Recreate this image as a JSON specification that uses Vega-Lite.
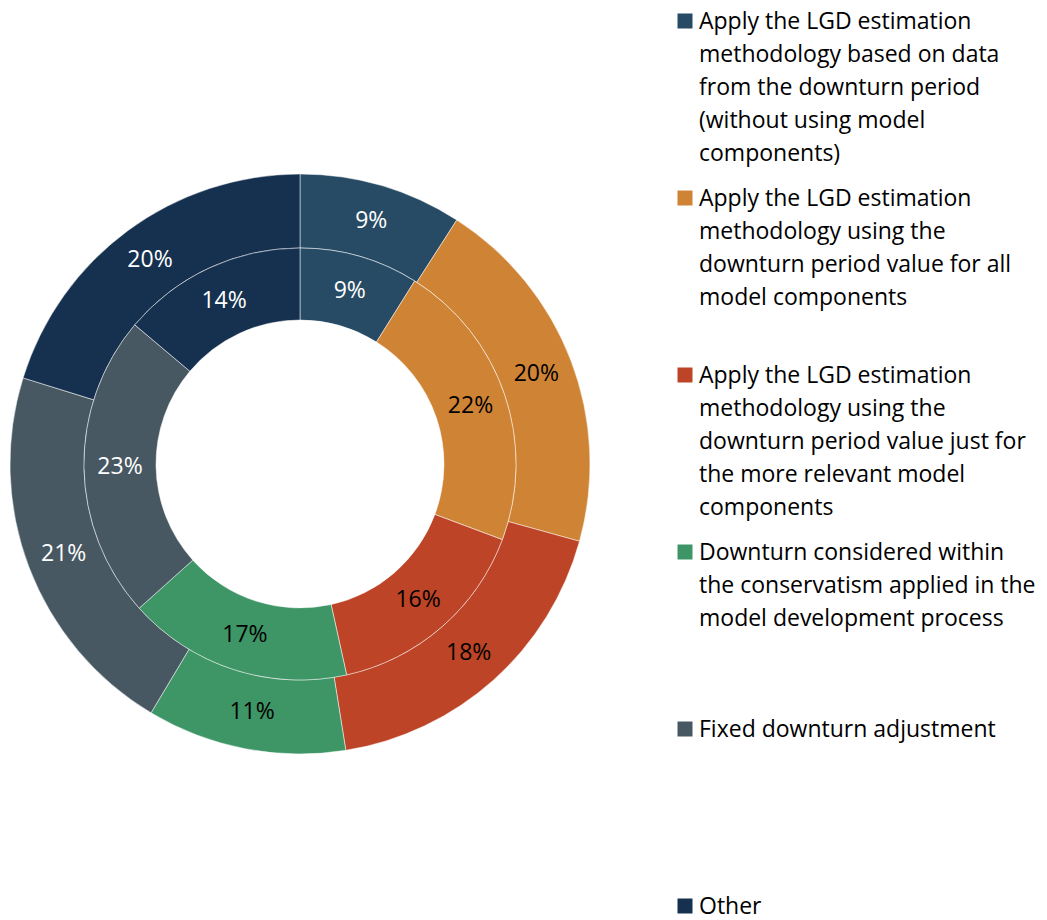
{
  "$schema": "https://vega.github.io/schema/vega-lite/v6.json",
  "padding": {"top": 8, "left": 0, "right": 0, "bottom": 0},
  "background": "white",
  "config": {"view": {"stroke": null}, "font": "Open Sans", "concat": {"spacing": 77}},
  "datasets": {
    "rings": [
      {"ring": "outer", "order": 1, "category": "Apply the LGD estimation methodology based on data from the downturn period (without using model components)", "value": 0.09},
      {"ring": "outer", "order": 2, "category": "Apply the LGD estimation methodology using the downturn period value for all model components", "value": 0.20},
      {"ring": "outer", "order": 3, "category": "Apply the LGD estimation methodology using the downturn period value just for the more relevant model components", "value": 0.18},
      {"ring": "outer", "order": 4, "category": "Downturn considered within the conservatism applied in the model development process", "value": 0.11},
      {"ring": "outer", "order": 5, "category": "Fixed downturn adjustment", "value": 0.21},
      {"ring": "outer", "order": 6, "category": "Other", "value": 0.20},
      {"ring": "inner", "order": 1, "category": "Apply the LGD estimation methodology based on data from the downturn period (without using model components)", "value": 0.09},
      {"ring": "inner", "order": 2, "category": "Apply the LGD estimation methodology using the downturn period value for all model components", "value": 0.22},
      {"ring": "inner", "order": 3, "category": "Apply the LGD estimation methodology using the downturn period value just for the more relevant model components", "value": 0.16},
      {"ring": "inner", "order": 4, "category": "Downturn considered within the conservatism applied in the model development process", "value": 0.17},
      {"ring": "inner", "order": 5, "category": "Fixed downturn adjustment", "value": 0.23},
      {"ring": "inner", "order": 6, "category": "Other", "value": 0.14}
    ],
    "legend": [
      {"order": 1, "category": "Apply the LGD estimation methodology based on data from the downturn period (without using model components)", "lines": ["Apply the LGD estimation", "methodology based on data", "from the downturn period", "(without using model", "components)"]},
      {"order": 2, "category": "Apply the LGD estimation methodology using the downturn period value for all model components", "lines": ["Apply the LGD estimation", "methodology using the", "downturn period value for all", "model components"]},
      {"order": 3, "category": "Apply the LGD estimation methodology using the downturn period value just for the more relevant model components", "lines": ["Apply the LGD estimation", "methodology using the", "downturn period value just for", "the more relevant model", "components"]},
      {"order": 4, "category": "Downturn considered within the conservatism applied in the model development process", "lines": ["Downturn considered within", "the conservatism applied in the", "model development process"]},
      {"order": 5, "category": "Fixed downturn adjustment", "lines": ["Fixed downturn adjustment"]},
      {"order": 6, "category": "Other", "lines": ["Other"]}
    ]
  },
  "hconcat": [
    {
      "width": 600,
      "height": 912,
      "data": {"name": "rings"},
      "encoding": {
        "theta": {"field": "value", "type": "quantitative", "stack": true},
        "order": {"field": "order", "type": "quantitative"},
        "color": {
          "field": "category",
          "type": "nominal",
          "legend": null,
          "scale": {
            "domain": [
              "Apply the LGD estimation methodology based on data from the downturn period (without using model components)",
              "Apply the LGD estimation methodology using the downturn period value for all model components",
              "Apply the LGD estimation methodology using the downturn period value just for the more relevant model components",
              "Downturn considered within the conservatism applied in the model development process",
              "Fixed downturn adjustment",
              "Other"
            ],
            "range": ["#284B65", "#CF8334", "#BD4426", "#3E9566", "#475862", "#16314F"]
          }
        }
      },
      "layer": [
        {
          "transform": [{"filter": "datum.ring == 'outer'"}],
          "mark": {"type": "arc", "radius": 290, "radius2": 216, "stroke": "white", "strokeWidth": 0.5}
        },
        {
          "transform": [{"filter": "datum.ring == 'inner'"}],
          "mark": {"type": "arc", "radius": 216, "radius2": 144, "stroke": "white", "strokeWidth": 0.5}
        },
        {
          "transform": [{"filter": "datum.ring == 'outer'"}],
          "mark": {"type": "text", "radius": 253, "fontSize": 23},
          "encoding": {
            "text": {"field": "value", "type": "quantitative", "format": ".0%"},
            "color": {"condition": {"test": "datum.order >= 2 && datum.order <= 4", "value": "black"}, "value": "white"}
          }
        },
        {
          "transform": [{"filter": "datum.ring == 'inner'"}],
          "mark": {"type": "text", "radius": 180, "fontSize": 23},
          "encoding": {
            "text": {"field": "value", "type": "quantitative", "format": ".0%"},
            "color": {"condition": {"test": "datum.order >= 2 && datum.order <= 4", "value": "black"}, "value": "white"}
          }
        }
      ],
      "resolve": {"scale": {"theta": "independent"}}
    },
    {
      "width": 16,
      "height": 912,
      "data": {"name": "legend"},
      "encoding": {
        "y": {
          "field": "category",
          "type": "nominal",
          "axis": null,
          "scale": {
            "type": "point",
            "padding": 0,
            "domain": [
              "Apply the LGD estimation methodology based on data from the downturn period (without using model components)",
              "Apply the LGD estimation methodology using the downturn period value for all model components",
              "Apply the LGD estimation methodology using the downturn period value just for the more relevant model components",
              "Downturn considered within the conservatism applied in the model development process",
              "Fixed downturn adjustment",
              "Other"
            ],
            "range": [13, 898]
          }
        }
      },
      "layer": [
        {
          "mark": {"type": "square", "size": 225, "opacity": 1, "filled": true},
          "encoding": {
            "color": {
              "field": "category",
              "type": "nominal",
              "legend": null,
              "scale": {
                "domain": [
                  "Apply the LGD estimation methodology based on data from the downturn period (without using model components)",
                  "Apply the LGD estimation methodology using the downturn period value for all model components",
                  "Apply the LGD estimation methodology using the downturn period value just for the more relevant model components",
                  "Downturn considered within the conservatism applied in the model development process",
                  "Fixed downturn adjustment",
                  "Other"
                ],
                "range": ["#284B65", "#CF8334", "#BD4426", "#3E9566", "#475862", "#16314F"]
              }
            }
          }
        },
        {
          "mark": {"type": "text", "align": "left", "baseline": "alphabetic", "dx": 14, "dy": 8, "fontSize": 23, "lineHeight": 33, "color": "black"},
          "encoding": {"text": {"field": "lines", "type": "nominal"}}
        }
      ]
    }
  ]
}
